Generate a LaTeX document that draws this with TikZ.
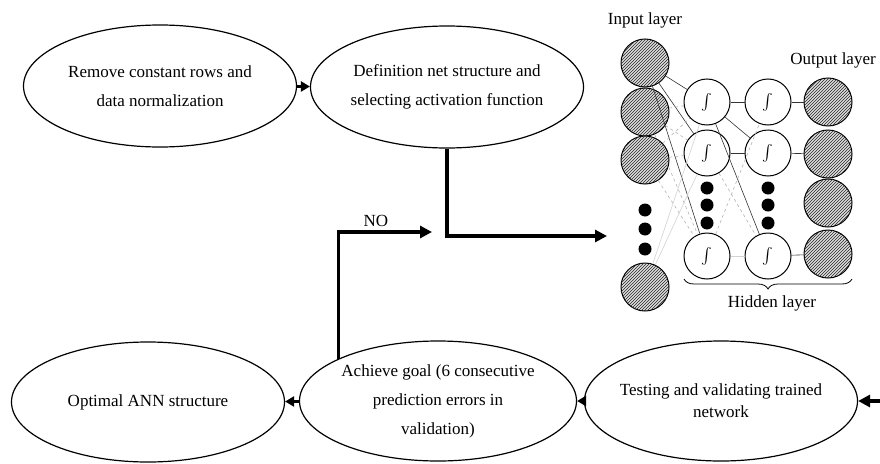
\documentclass[tikz,border=0pt]{standalone}
\usepackage{fontspec}
\setmainfont{Liberation Serif}
\usetikzlibrary{shapes.geometric, arrows.meta, patterns, decorations.pathreplacing}

\tikzset{
    stage/.style={ellipse, draw, line width=1.2pt, minimum width=273pt, minimum height=120pt,
        align=center, inner xsep=-10pt, inner ysep=0pt},
    flow/.style={line width=3.2pt, -{Triangle[length=12pt, width=12pt]}},
    link/.style={line width=2.6pt, -{Triangle[length=9pt, width=10pt]}},
    inneuron/.style={circle, draw, line width=1pt, minimum size=48pt, inner sep=0pt,
        fill=gray!25, postaction={pattern=north east lines, pattern color=black!85}},
    hidneuron/.style={circle, draw, line width=1pt, minimum size=46pt, inner sep=0pt, fill=white},
    outneuron/.style={inneuron, minimum size=48pt},
    vdot/.style={circle, fill=black, minimum size=13pt, inner sep=0pt},
    wire/.style={line width=0.6pt, black!80},
    faintwire/.style={line width=0.6pt, gray!60, dashed},
    palewire/.style={line width=0.6pt, gray!35}
}
\newcommand{\actfn}{\scalebox{1.6}{$\int$}}

\begin{document}
\begin{tikzpicture}[x=1pt, y=-1pt, font=\fontsize{17}{29}\selectfont]
    \useasboundingbox (0,0) rectangle (880,463);

    % flow chart
    \node[stage, minimum height=122pt] (norm) at (160,86) {Remove constant rows and\\data normalization};
    \node[stage, minimum height=122pt] (def) at (447,87) {Definition net structure and\\selecting activation function};
    \node[stage] (test) at (721,401) {Testing and validating trained\\[-7pt]network};
    \node[stage, minimum width=277pt] (goal) at (438,401) {Achieve goal (6 consecutive\\prediction errors in\\validation)};
    \node[stage] (opt) at (148,402) {Optimal ANN structure};

    \coordinate (netin) at (607,236);
    \coordinate (noend) at (432,232);
    \coordinate (netout) at (880,401);

    \draw[link] (norm) -- (def);
    \draw[flow] (def.south) |- (netin);
    \draw[flow] (goal.157) |- (noend) node[pos=0.7, above] (nolabel) {NO};
    \draw[flow] (netout) -- (test.east);
    \draw[link] (test) -- (goal);
    \draw[link] (goal) -- (opt);

    % network
    \node (inlabel) at (645,20) {Input layer};
    \node (outlabel) at (833,60) {Output layer};

    \foreach \name/\y in {in1/63, in2/112, in3/160, in4/287}
        \node[inneuron] (\name) at (645,\y) {};
    \foreach \y in {210, 229, 249}
        \node[vdot] (idot\y) at (645,\y) {};

    \foreach \name/\y in {1/102, 2/153, 4/256} {
        \node[hidneuron] (ha\name) at (707,\y) {\actfn};
        \node[hidneuron] (hb\name) at (768,\y) {\actfn};
    }
    \foreach \y in {188, 205, 223} {
        \node[vdot] (adot\y) at (707,\y) {};
        \node[vdot] (bdot\y) at (768,\y) {};
    }

    \foreach \name/\y in {1/102, 2/154, 3/203, 4/254}
        \node[outneuron] (out\name) at (828,\y) {};

    % weights
    \foreach \b in {ha1, ha2, ha4}
        \draw[wire] (in1) -- (\b);
    \foreach \a in {in2, in3}
        \foreach \b in {ha1, ha2, ha4}
            \draw[faintwire] (\a) -- (\b);
    \draw[palewire] (in4) -- (ha1);
    \draw[palewire] (in4) -- (ha2);

    \draw[wire] (ha1) -- (hb1);
    \draw[wire] (ha2) -- (hb2);
    \draw[wire] (ha1) -- (hb2);
    \draw[wire] (ha1) -- (hb4);
    \draw[faintwire] (ha2) -- (hb4);
    \draw[faintwire] (ha4) -- (hb1);
    \draw[palewire] (ha4) -- (hb4);

    \draw[wire] (hb1) -- (out1);
    \draw[wire] (hb2) -- (out2);
    \draw[wire] (hb4) -- (out4);

    \draw[line width=0.8pt, decorate, decoration={brace, amplitude=10pt, mirror}]
        (684,279) -- (852,279);
    \node (hidlabel) at (772,303) {Hidden layer};
\end{tikzpicture}
\end{document}
